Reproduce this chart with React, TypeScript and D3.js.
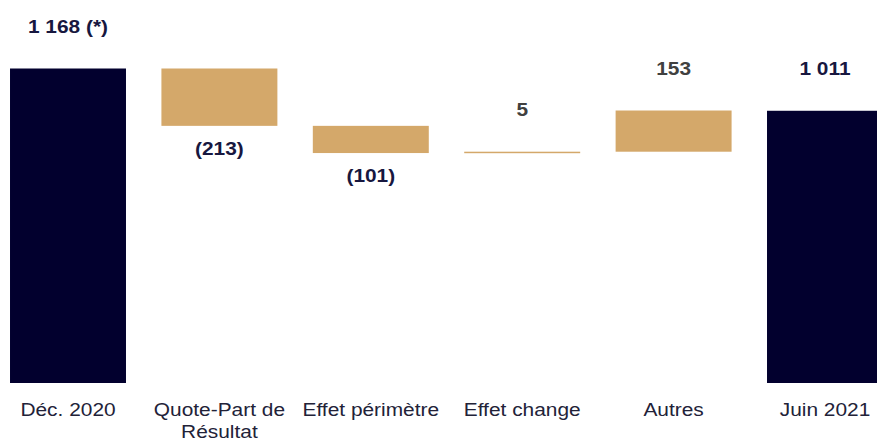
import React, { useRef, useEffect } from 'react';
import * as d3 from 'd3';

// Waterfall: Déc. 2020 -> Juin 2021
const categories = ['Déc. 2020', 'Quote-Part de\nRésultat', 'Effet périmètre', 'Effet change', 'Autres', 'Juin 2021'];
const values = [1168, -213, -101, 5, 153, 1011];
const isTotal = [true, false, false, false, false, true];
const valueLabels = ['1 168 (*)', '(213)', '(101)', '5', '153', '1 011'];

const NAVY = '#02002e';
const GOLD = '#d4a86a';
const LABEL_NAVY = '#17173f';
const LABEL_GRAY = '#404040';
const CAT_COLOR = '#222238';

const App = () => {
  const chartRef = useRef<HTMLDivElement>(null);

  useEffect(() => {
    const width = 877;
    const height = 442;
    const sx = 1.13; // text in the reference is slightly wider than tall

    d3.select(chartRef.current).selectAll('*').remove();

    const svg = d3.select(chartRef.current)
      .append('svg')
      .attr('width', width)
      .attr('height', height)
      .style('position', 'absolute')
      .style('left', 0)
      .style('top', 0)
      .style('font-family', '"Liberation Sans", Arial, sans-serif');

    // running totals for floating bars
    let running = 0;
    const bars = values.map((v, i) => {
      let y0, y1;
      if (isTotal[i]) {
        y0 = 0; y1 = v; running = v;
      } else {
        y0 = running; y1 = running + v; running = y1;
      }
      return { cat: categories[i], v, lo: Math.min(y0, y1), hi: Math.max(y0, y1), total: isTotal[i], label: valueLabels[i] };
    });

    const x = d3.scaleBand()
      .domain(categories)
      .range([-7.7, 900.7])
      .paddingInner(0.234)
      .paddingOuter(0.117);

    const y = d3.scaleLinear()
      .domain([0, d3.max(values) as number])
      .range([383, 68.5]);

    svg.selectAll('.bar')
      .data(bars)
      .enter()
      .append('rect')
      .attr('class', 'bar')
      .attr('x', d => x(d.cat) as number)
      .attr('y', d => y(d.hi))
      .attr('width', x.bandwidth())
      .attr('height', d => Math.max(1.5, y(d.lo) - y(d.hi)))
      .attr('fill', d => (d.total ? NAVY : GOLD));

    // value labels: above for totals / increases, below for decreases
    svg.selectAll('.val')
      .data(bars)
      .enter()
      .append('text')
      .attr('class', 'val')
      .attr('transform', d => {
        const cx = (x(d.cat) as number) + x.bandwidth() / 2;
        const cy = d.v < 0 ? y(d.lo) + 29 : y(d.hi) - 36;
        return `translate(${cx},${cy}) scale(${sx},1)`;
      })
      .attr('text-anchor', 'middle')
      .style('font-size', '18.5px')
      .style('font-weight', 'bold')
      .attr('fill', d => (d.total || d.v < 0 ? LABEL_NAVY : LABEL_GRAY))
      .text(d => d.label);

    // category labels
    const cats = svg.selectAll('.cat')
      .data(categories)
      .enter()
      .append('text')
      .attr('class', 'cat')
      .attr('transform', d => `translate(${(x(d) as number) + x.bandwidth() / 2},415.5) scale(${sx},1)`)
      .attr('text-anchor', 'middle')
      .style('font-size', '18.5px')
      .attr('fill', CAT_COLOR);

    cats.selectAll('tspan')
      .data(d => d.split('\n'))
      .enter()
      .append('tspan')
      .attr('x', 0)
      .attr('dy', (d, i) => (i === 0 ? 0 : 22.7))
      .text(d => d);
  }, []);

  return <div ref={chartRef}></div>;
};

export default App;
